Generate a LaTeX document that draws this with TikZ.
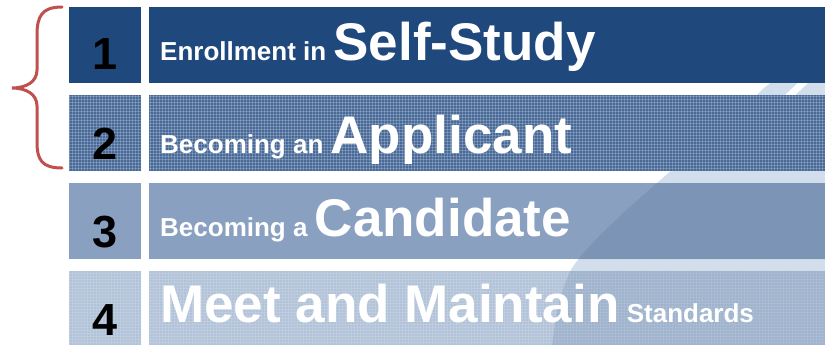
\documentclass[tikz,border=0pt]{standalone}
\usepackage{fontspec}
\setmainfont{Liberation Sans}
\usetikzlibrary{positioning,patterns}

\definecolor{stepone}{RGB}{31,73,125}
\definecolor{steptwo}{RGB}{72,106,152}
\definecolor{stepthree}{RGB}{138,160,192}
\definecolor{stepfour}{RGB}{178,194,217}
\definecolor{swoosh}{RGB}{211,222,236}
\definecolor{bracered}{RGB}{192,80,77}

\newcommand{\smalltxt}{\fontsize{26}{26}\selectfont}
\newcommand{\bigtxt}{\fontsize{53}{53}\selectfont}
\newcommand{\numtxt}{\fontsize{45}{45}\selectfont}

\begin{document}
\begin{tikzpicture}[x=1pt, y=-1pt,
  numbox/.style={rectangle, anchor=north west, inner sep=0pt, minimum width=72pt, minimum height=76pt},
  textbar/.style={rectangle, anchor=north west, inner sep=0pt, minimum width=676pt, minimum height=76pt},
  numlabel/.style={anchor=base, inner sep=0pt, font=\numtxt\bfseries, text=black},
  barlabel/.style={anchor=base west, inner sep=0pt, font=\smalltxt\bfseries, text=white}]

\useasboundingbox (0,0) rectangle (825,345);

% Background swoosh
\fill[swoosh] (868,0) -- (763,89) .. controls (700,150) and (600,225) .. (572,268)
  .. controls (560,290) and (555,320) .. (552,345) -- (825,345) -- (825,0) -- cycle;
\draw[white, line width=7pt] (806,80) -- (787,98);

% Number boxes
\node[numbox, fill=stepone] (num1) at (69,7) {};
\node[numbox, fill=steptwo] (num2) at (69,95) {};
\node[numbox, fill=stepthree] (num3) at (69,183) {};
\node[numbox, fill=stepfour, minimum height=74pt] (num4) at (69,271) {};

% Step bars
\node[textbar, fill=stepone] (bar1) at (149,7) {};
\node[textbar, fill=steptwo] (bar2) at (149,95) {};
\node[textbar, fill=stepthree] (bar3) at (149,183) {};
\node[textbar, fill=stepfour, minimum height=74pt] (bar4) at (149,271) {};

% Texture on the lighter steps
\fill[pattern=grid, pattern color=white!85!stepone, opacity=0.25]
  (num2.north west) rectangle (num2.south east)
  (bar2.north west) rectangle (bar2.south east)
  (num4.north west) rectangle (num4.south east)
  (bar4.north west) rectangle (bar4.south east);

% Swoosh seen through the bars
\begin{scope}
\clip (bar3.north west) rectangle (bar3.south east)
      (bar4.north west) rectangle (bar4.south east);
\fill[stepone, opacity=0.12] (868,0) -- (763,89) .. controls (700,150) and (600,225) .. (572,268)
  .. controls (560,290) and (555,320) .. (552,345) -- (825,345) -- (825,0) -- cycle;
\end{scope}

% Numbers
\node[numlabel] (idx1) at (105,70) {1};
\node[numlabel] (idx2) at (105,159) {2};
\node[numlabel] (idx3) at (105,247) {3};
\node[numlabel] (idx4) at (105,335) {4};

% Step titles
\node[barlabel] (lab1) at (160,60) {Enrollment in {\bigtxt Self-Study}};
\node[barlabel] (lab2) at (160,153) {Becoming an {\bigtxt Applicant}};
\node[barlabel] (lab3) at (160,236) {Becoming a {\bigtxt Candidate}};
\node[barlabel] (lab4) at (160,322) {{\bigtxt Meet and Maintain} Standards};

% Brace over the first two steps
\draw[bracered, line width=3pt, line cap=round]
  (62,7) .. controls (42,7) and (37,16) .. (37,35) -- (37,70)
  .. controls (37,82) and (26,88) .. (12,88)
  .. controls (26,88) and (37,94) .. (37,106) -- (37,142)
  .. controls (37,160) and (42,168) .. (62,168);

\end{tikzpicture}
\end{document}
